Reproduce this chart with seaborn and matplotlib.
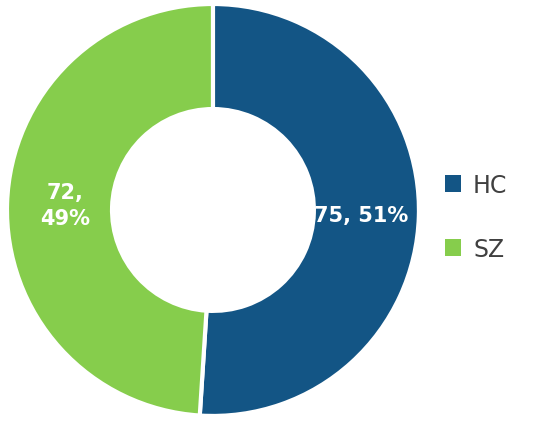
import matplotlib
matplotlib.use("Agg")
import matplotlib.pyplot as plt
import seaborn as sns
from matplotlib.patches import Patch

categories = ["HC", "SZ"]
values = [75, 72]
percents = [51, 49]
point_labels = ["75, 51%", "72,\n49%"]
colors = ["#135585", "#86cd4c"]

sns.set_style("white")
plt.rcParams['font.family'] = ['DejaVu Sans']

fig = plt.figure(figsize=(5.5, 4.31), dpi=100)
ax = fig.add_axes([0.0127, 0.0325, 0.749, 0.956])

lab_iter = iter(point_labels)
wedges, texts, autotexts = ax.pie(
    values, colors=colors, startangle=90, counterclock=False,
    wedgeprops=dict(width=0.51, edgecolor="white", linewidth=3),
    autopct=lambda p: next(lab_iter), pctdistance=0.72,
    textprops=dict(color="white", fontsize=15, fontweight="bold"))
for t in autotexts:
    t.set_linespacing(1.35)
ax.set_aspect("equal")
ax.set_xlim(-1, 1)
ax.set_ylim(-1, 1)
ax.axis("off")

handles = [Patch(facecolor=c, edgecolor="none") for c in colors]
fig.legend(handles, categories, loc="center left", bbox_to_anchor=(0.77, 0.495),
           frameon=False, fontsize=17, handlelength=0.7, handleheight=0.7,
           handletextpad=0.5, labelspacing=1.7, labelcolor="#404040")

fig.savefig("out.png", dpi=100)
